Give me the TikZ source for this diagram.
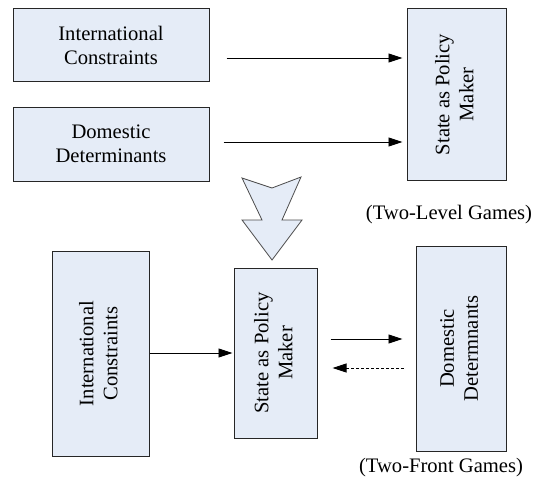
\documentclass[tikz,border=0pt]{standalone}
\usepackage{fontspec}
\setmainfont{Liberation Serif}
\usetikzlibrary{arrows.meta,calc}
\definecolor{boxfill}{RGB}{229,236,247}
\newcommand{\vtext}[2]{\rotatebox{90}{\begin{tabular}{@{}c@{}}#1\\#2\end{tabular}}}
\begin{document}
\begin{tikzpicture}[x=1pt,y=-1pt,
  box/.style={draw=black!85, line width=1pt, fill=boxfill, inner sep=0pt, align=center,
              font=\fontsize{20.6}{24}\selectfont},
  arr/.style={-{Triangle[length=14pt,width=9pt]}, line width=0.9pt},
  dasharr/.style={arr, dash pattern=on 3pt off 2pt},
  lbl/.style={font=\fontsize{20.6}{24}\selectfont, inner sep=0pt},
  bigarrow/.style={draw=black!70, fill=boxfill, line width=0.8pt, line join=miter}]
\useasboundingbox (0,0) rectangle (534,484);

% top level
\node[box, minimum width=196pt, minimum height=73pt] (ic1) at (111,45.5) {International\\Constraints};
\node[box, minimum width=196pt, minimum height=74pt] (dd1) at (111,144) {Domestic\\Determinants};
\node[box, minimum width=99pt, minimum height=171pt] (sp1) at (456.5,94.5) {\vtext{State as Policy}{Maker}};

\coordinate (ya) at (0,58);
\coordinate (yb) at (0,142);
\draw[arr, shorten <=17pt, shorten >=4pt] (ic1.east |- ya) -- (sp1.west |- ya);
\draw[arr, shorten <=14pt, shorten >=4pt] (dd1.east |- yb) -- (sp1.west |- yb);

\node[lbl] (tl) at (449,215) {(Two-Level Games)};

% big hollow arrow
\draw[bigarrow] (242,178) -- (272,188) -- (301,177) -- (282,220) -- (302,220) -- (272,260)
  -- (242,220) -- (262,220) -- cycle;

% bottom level
\node[box, minimum width=97pt, minimum height=205pt] (ic2) at (100.5,353.5) {\vtext{International}{Constraints}};
\node[box, minimum width=83pt, minimum height=170pt] (sp2) at (275.5,353) {\vtext{State as Policy}{Maker}};
\node[box, minimum width=90pt, minimum height=205pt] (dd2) at (461,348.5) {\vtext{Domestic}{Determnants}};

\coordinate (yc) at (0,353);
\coordinate (yd) at (0,339);
\coordinate (ye) at (0,368);
\draw[arr, shorten >=1pt] (ic2.east |- yc) -- (sp2.west |- yc);
\draw[arr, shorten <=13pt, shorten >=13pt] (sp2.east |- yd) -- (dd2.west |- yd);
\draw[dasharr, shorten <=12pt, shorten >=15pt] (dd2.west |- ye) -- (sp2.east |- ye);

\node[lbl] (tf) at (441,468) {(Two-Front Games)};
\end{tikzpicture}
\end{document}
